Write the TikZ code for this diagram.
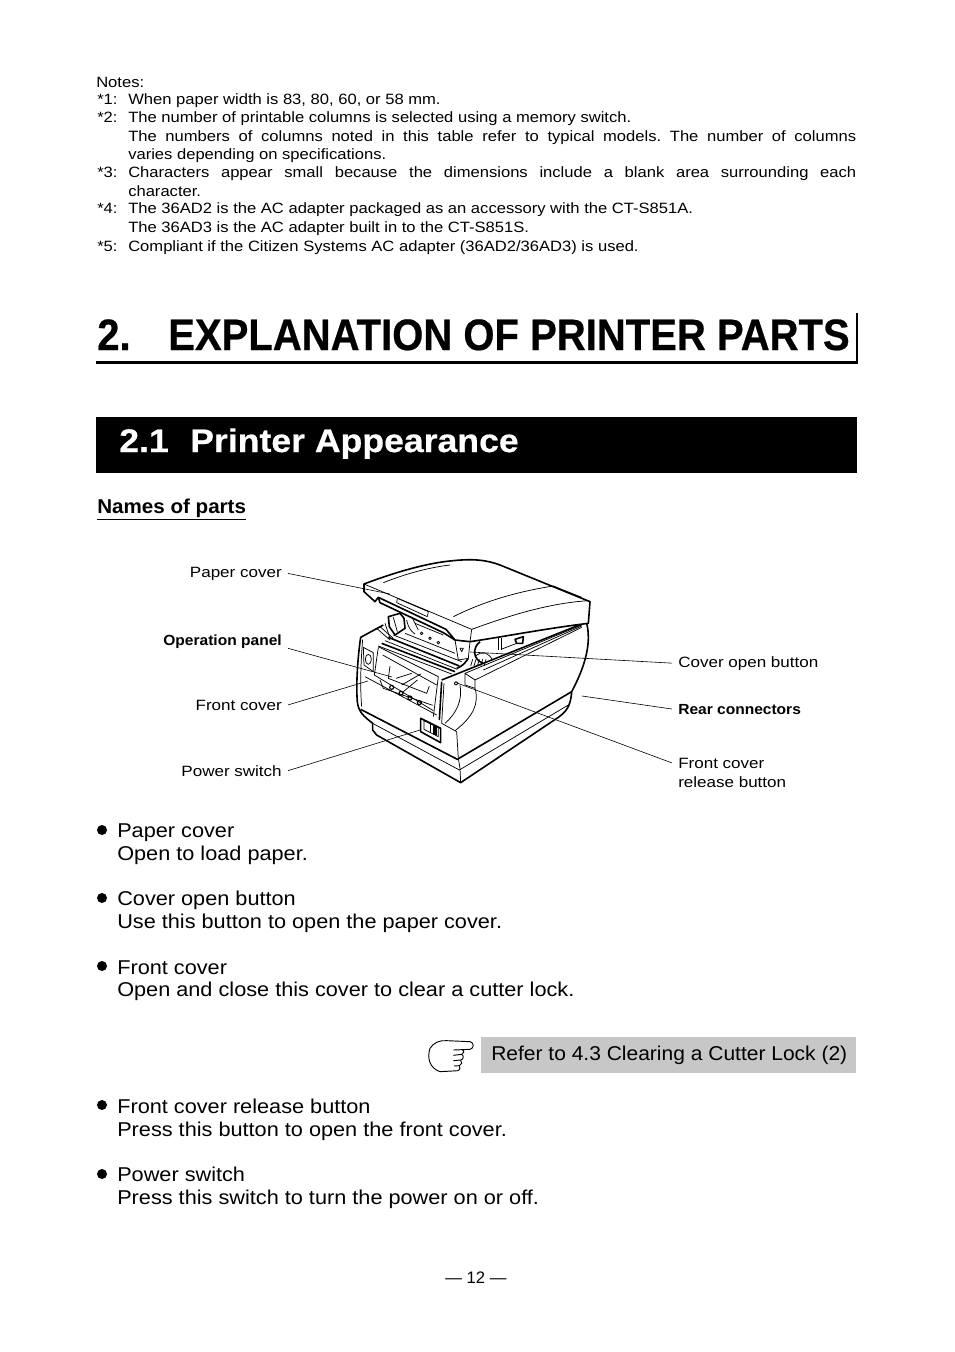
\documentclass[tikz,border=0pt]{standalone}
\usepackage{fontspec}
\usepackage{tkz-euclide}
\usetikzlibrary{calc}
\usetikzlibrary{positioning}
\usetikzlibrary{arrows.meta}
\setmainfont{Liberation Sans}
\newfontfamily\notefont[FakeStretch=1.11]{Liberation Sans}
\newfontfamily\bodyfont[FakeStretch=1.085]{Liberation Sans}
\newfontfamily\refrfont[FakeStretch=1.05]{Liberation Sans}
\newfontfamily\labelfont[FakeStretch=1.14]{Liberation Sans}
\newfontfamily\boldlabelfont[FakeStretch=1.06]{Liberation Sans Bold}
\newfontfamily\namesfont[FakeStretch=1.03]{Liberation Sans Bold}
\newfontfamily\chapfont[FakeStretch=0.91,FakeBold=0.5]{Liberation Sans Bold}
\newfontfamily\sectfont[FakeStretch=1.09,FakeBold=0.5]{Liberation Sans Bold}
\frenchspacing

\begin{document}
\begin{tikzpicture}[%
  x=0.75pt, y=-0.75pt,
  notetext/.style={anchor=base west, inner sep=0pt, font=\notefont\fontsize{11.2}{13}\selectfont},
  bodytext/.style={anchor=base west, inner sep=0pt, font=\bodyfont\fontsize{15}{18}\selectfont},
  sidetext/.style={anchor=base west, inner sep=0pt, font=\labelfont\fontsize{11.2}{13}\selectfont},
  lefttext/.style={anchor=base east, inner ysep=0pt, inner xsep=4.5pt, font=\labelfont\fontsize{11.2}{13}\selectfont},
  righttext/.style={anchor=base west, inner ysep=0pt, inner xsep=4.5pt, font=\labelfont\fontsize{11.2}{13}\selectfont},
  boldlabel/.style={font=\boldlabelfont\fontsize{11}{13}\selectfont},
  chaptext/.style={anchor=base west, inner sep=0pt, font=\chapfont\fontsize{33}{36}\selectfont},
  leader/.style={line width=0.45pt},
  outline/.style={line width=1.2pt, line join=round},
  detail/.style={line width=0.55pt, line join=round},
]

  \useasboundingbox (0,0) rectangle (954,1352);

  % notes
  \node[notetext] (n0) at (96,88) {Notes:};
  \node[notetext] (n1a) at (97,105) {*1:};
  \node[notetext] (n1) at (128,105) {When paper width is 83, 80, 60, or 58 mm.};
  \node[notetext] (n2a) at (97,123) {*2:};
  \node[notetext] (n2) at (128,123) {The number of printable columns is selected using a memory switch.};
  \node[notetext] (n2b) at (128,142) {\makebox[546pt][s]{The numbers of columns noted in this table refer to typical models. The number of columns}};
  \node[notetext] (n2c) at (128,160) {varies depending on specifications.};
  \node[notetext] (n3a) at (97,178) {*3:};
  \node[notetext] (n3) at (128,178) {\makebox[546pt][s]{Characters appear small because the dimensions include a blank area surrounding each}};
  \node[notetext] (n3b) at (128,196) {character.};
  \node[notetext] (n4a) at (97,214) {*4:};
  \node[notetext] (n4) at (128,214) {The 36AD2 is the AC adapter packaged as an accessory with the CT-S851A.};
  \node[notetext] (n4b) at (128,232) {The 36AD3 is the AC adapter built in to the CT-S851S.};
  \node[notetext] (n5a) at (97,251) {*5:};
  \node[notetext] (n5) at (128,251) {Compliant if the Citizen Systems AC adapter (36AD2/36AD3) is used.};

  % chapter title
  \node[chaptext] (chapnum) at (97,350) {2.};
  \node[chaptext] (chaptitle) at (168,350) {EXPLANATION OF PRINTER PARTS};
  \draw[line width=1.6pt] (96,362.5) -- (857,362.5) -- (857,313);

  % section band
  \fill[black] (96,417) rectangle (857,473);
  \node[anchor=base west, inner sep=0pt, text=white, font=\sectfont\fontsize{24.5}{28}\selectfont] (sectnum) at (119,452) {2.1};
  \node[anchor=base west, inner sep=0pt, text=white, font=\sectfont\fontsize{24.5}{28}\selectfont] (secttitle) at (190,452) {Printer Appearance};

  \node[anchor=base west, inner sep=0pt, font=\namesfont\fontsize{15}{18}\selectfont] (names) at (97,513) {\underline{Names of parts}};

  % labels
  \node[lefttext] (lblPaper) at (288,577) {Paper cover};
  \node[lefttext, boldlabel] (lblPanel) at (288,645) {Operation panel};
  \node[lefttext] (lblFront) at (288,710) {Front cover};
  \node[lefttext] (lblSwitch) at (288,776) {Power switch};
  \node[righttext] (lblOpen) at (672,667) {Cover open button};
  \node[righttext, boldlabel] (lblRear) at (672,714) {Rear connectors};
  \node[righttext] (lblRelease) at (672,768) {Front cover};
  \node[sidetext] (lblRelease2) at (678,787) {release button};

  \tkzDefPoint(390,594){ptPaper}
  \tkzDefPoint(392,677){ptPanel}
  \tkzDefPoint(368,681){ptFront}
  \tkzDefPoint(420,730){ptSwitch}
  \tkzDefPoint(470,652){ptOpen}
  \tkzDefPoint(582,696){ptRear}
  \tkzDefPoint(457,683){ptRelease}

  % printer, traced from a 3x crop
  \begin{scope}[shift={(340,560)}, x=0.25pt, y=-0.25pt]
    % body
    \draw[outline] (130,195) -- (62,232) .. controls (52,300) and (48,380) .. (52,425)
      .. controls (55,455) and (70,468) .. (98,490) -- (98,510) -- (110,525) -- (362,668) -- (655,472)
      .. controls (678,455) and (692,440) .. (695,395)
      .. controls (735,320) and (755,250) .. (740,190);
    \draw[detail] (68,238) .. controls (62,310) and (60,380) .. (65,440);
    \draw[outline] (62,448) -- (352,598) -- (695,395);
    \draw[detail] (98,490) -- (358,630) -- (685,435);
    \draw[detail] (350,515) -- (355,595) -- (360,625) -- (362,668);
    % top edge of the opening
    \draw[outline] (305,360) -- (430,310) -- (725,192);
    \draw[detail] (375,340) -- (725,195);
    \draw[detail] (430,330) -- (725,198);
    \draw[detail] (405,360) -- (725,202);
    % notch by the release button
    \draw[detail] (375,340) -- (375,375) -- (405,385) -- (405,360) -- cycle;
    % front cover side
    \draw[outline] (305,365) -- (298,480);
    \draw[detail] (312,370) -- (305,490) -- (350,515);
    \draw[detail] (360,375) .. controls (368,420) and (350,460) .. (315,490);
    \draw[detail] (405,385) .. controls (418,430) and (400,470) .. (345,512);
    \fill (348,370) circle (6);
    \fill[white] (348,370) circle (3);
    % operation panel
    \draw[detail] (70,262) -- (100,278) -- (100,335) -- (72,315) -- cycle;
    \draw[detail] (85,298) ellipse (9 and 15);
    \draw[detail] (75,350) -- (290,465);
    \draw[detail] (115,260) -- (295,350) -- (280,470);
    \draw[detail] (115,262) -- (103,345) -- (280,452);
    \draw[detail] (128,285) -- (290,375);
    \draw[detail] (150,318) -- (145,355) -- (260,400) -- (268,378);
    \draw[detail] (120,360) -- (130,385) -- (278,436);
    \draw[detail] (168,355) -- (215,340);
    \draw[detail] (185,375) -- (242,342);
    \draw[detail] (190,395) -- (232,360);
    \foreach \px/\py in {155/382, 183/400, 210/414, 238/428}
      \draw[line width=0.85pt] (\px,\py) circle (6);
    % rollers
    \draw[detail] (160,225) -- (365,305);
    \draw[outline] (145,232) -- (358,318);
    \draw[detail] (135,242) -- (352,328);
    \draw[outline] (125,250) -- (345,335);
    \draw[detail] (115,258) -- (335,342);
    % mechanism at the back
    \draw[outline] (145,170) -- (180,160) -- (192,175) -- (195,205) -- (165,225) -- (148,200) -- cycle;
    \draw[detail] (160,172) -- (172,215);
    \draw[detail] (110,205) -- (150,240);
    \draw[detail] (120,200) -- (160,235);
    \draw[detail] (135,190) -- (150,235);
    \draw[detail] (200,180) .. controls (205,205) and (215,215) .. (225,222);
    \draw[detail] (215,170) -- (235,210);
    \draw[detail] (225,190) -- (310,225);
    \draw[detail] (195,220) -- (345,280);
    \foreach \px/\py in {245/220, 270/235, 295/248}
      \draw[detail] (\px,\py) circle (4);
    % button area
    \draw[detail] (345,240) -- (390,245) -- (385,295) -- (355,300) -- cycle;
    \draw[detail] (360,265) -- (370,265) -- (365,275) -- cycle;
    \draw[outline] (385,295) .. controls (375,310) and (365,320) .. (350,325);
    \draw[outline] (420,245) .. controls (395,265) and (400,300) .. (430,310);
    \draw[detail] (405,290) .. controls (425,270) and (445,278) .. (458,300);
    \foreach \hx in {392,402,412,422,432}
      \draw[detail] (\hx,318) -- (\hx+6,298);
    \draw[detail] (475,235) -- (475,270);
    \draw[detail] (483,235) -- (483,270);
    \draw[outline] (525,238) -- (550,230) -- (548,250) -- (530,250) -- cycle;
    \draw[detail] (483,268) -- (530,250);
    % paper cover
    \draw[outline, fill=white] (72,72) .. controls (170,35) and (260,10) .. (330,3)
      .. controls (400,-5) and (440,0) .. (480,15) -- (750,125) -- (745,190)
      .. controls (620,205) and (480,232) .. (390,245) -- (345,240) -- (318,208) -- (115,112) -- (105,125) -- (72,95) -- cycle;
    \draw[detail] (72,72) -- (395,208) .. controls (500,170) and (620,130) .. (745,122);
    \draw[detail] (390,245) -- (395,208);
    \draw[detail] (340,170) .. controls (430,125) and (530,95) .. (640,78) -- (725,112);
    \draw[detail] (130,68) .. controls (200,40) and (270,22) .. (330,15);
    \draw[outline] (115,112) -- (120,128) -- (310,218) -- (345,240);
    \draw[detail] (172,115) -- (265,155) -- (262,170);
    \draw[detail] (172,115) -- (170,128) -- (262,170);
    % power switch
    \draw[outline] (242,475) -- (302,505) -- (302,548) -- (242,515) -- cycle;
    \draw[detail] (252,482) -- (295,502) -- (295,530) -- (252,508) -- cycle;
    \draw[detail] (272,492) -- (272,518);
    \fill (280,498) rectangle (290,525);
  \end{scope}

  \draw[leader] (lblPaper.east) -- (ptPaper);
  \draw[leader] (lblPanel.south east) -- (ptPanel);
  \draw[leader] (lblFront.east) -- (ptFront);
  \draw[leader] (lblSwitch.east) -- (ptSwitch);
  \draw[leader] (lblOpen.west) -- (ptOpen);
  \draw[leader] (lblRear.west) -- (ptRear);
  \draw[leader] (lblRelease.west) -- (ptRelease);

  % bullets
  \foreach \by in {830, 898, 966, 1105, 1174}
    \fill (102,\by) circle (5);

  \node[bodytext] (a1) at (117,837) {Paper cover};
  \node[bodytext] (a2) at (117,860) {Open to load paper.};
  \node[bodytext] (b1) at (117,905) {Cover open button};
  \node[bodytext] (b2) at (117,928) {Use this button to open the paper cover.};
  \node[bodytext] (c1) at (117,974) {Front cover};
  \node[bodytext] (c2) at (117,996) {Open and close this cover to clear a cutter lock.};
  \node[bodytext] (d1) at (117,1113) {Front cover release button};
  \node[bodytext] (d2) at (117,1136) {Press this button to open the front cover.};
  \node[bodytext] (e1) at (117,1181) {Power switch};
  \node[bodytext] (e2) at (117,1204) {Press this switch to turn the power on or off.};

  % reference box with hand
  \fill[black!22] (481,1037) rectangle (856,1073);
  \node[bodytext, font=\refrfont\fontsize{15}{18}\selectfont] (refer) at (491,1060) {Refer to 4.3 Clearing a Cutter Lock (2)};
  \begin{scope}[shift={(420,1030)}, x=0.25pt, y=-0.25pt]
    \draw[line width=0.7pt, line join=round] (115,122) -- (60,125) .. controls (30,115) and (20,85) .. (30,55)
      .. controls (40,38) and (60,30) .. (80,32) -- (150,35)
      .. controls (163,38) and (163,55) .. (150,58) -- (100,60);
    \draw[line width=0.7pt, line join=round] (125,58) .. controls (135,62) and (132,72) .. (125,73) -- (100,76);
    \draw[line width=0.7pt, line join=round] (125,73) .. controls (133,78) and (130,88) .. (122,90) -- (100,92);
    \draw[line width=0.7pt, line join=round] (122,90) .. controls (128,96) and (125,105) .. (118,107) -- (102,108);
    \draw[line width=0.7pt, line join=round] (118,107) .. controls (122,112) and (120,120) .. (115,122);
  \end{scope}

  \node[anchor=base, inner sep=0pt, font=\fontsize{12.5}{15}\selectfont] (pagenum) at (476,1283) {--- 12 ---};

\end{tikzpicture}
\end{document}
